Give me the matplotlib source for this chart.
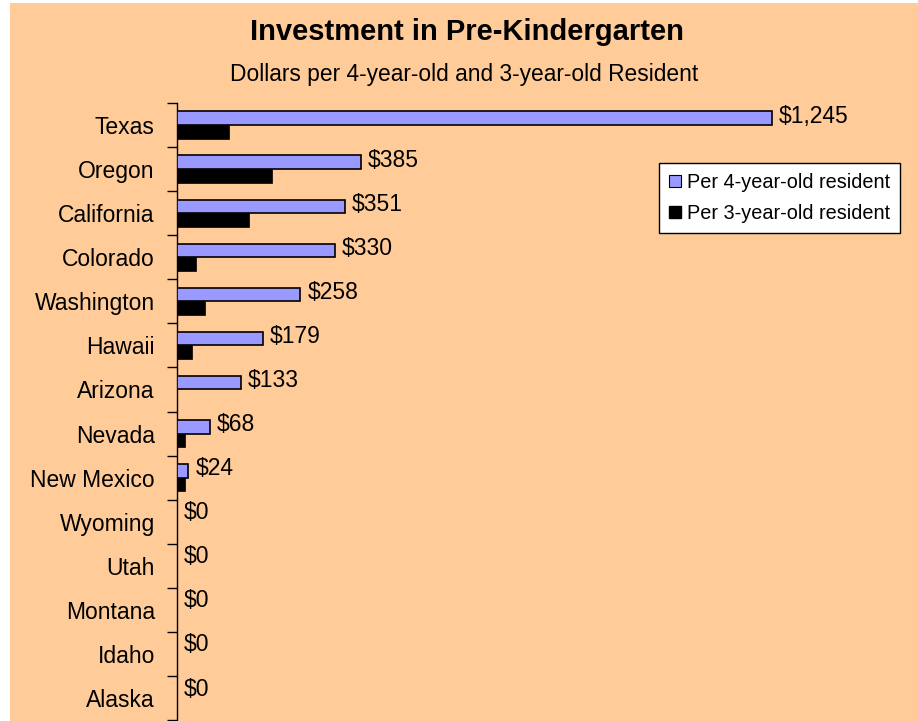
import matplotlib
matplotlib.use("Agg")
import matplotlib.pyplot as plt
from matplotlib.patches import Rectangle, Patch
import numpy as np

plt.rcParams['font.family'] = ['Liberation Sans', 'DejaVu Sans']

# data
states = ['Texas', 'Oregon', 'California', 'Colorado', 'Washington', 'Hawaii',
          'Arizona', 'Nevada', 'New Mexico', 'Wyoming', 'Utah', 'Montana',
          'Idaho', 'Alaska']
per_4yr = [1245, 385, 351, 330, 258, 179, 133, 68, 24, 0, 0, 0, 0, 0]
per_3yr = [109, 198, 151, 39, 59, 31, 0, 17, 17, 0, 0, 0, 0, 0]
value_labels = ['$1,245', '$385', '$351', '$330', '$258', '$179', '$133',
                '$68', '$24', '$0', '$0', '$0', '$0', '$0']

peach = '#FFCC99'
lilac = '#9999FF'

W, H = 918, 721
fig = plt.figure(figsize=(W / 100, H / 100), dpi=100)
fig.patch.set_facecolor('white')
# peach chart area (small white strip on the left and top)
fig.add_artist(Rectangle((10 / W, 0), (W - 10) / W, (H - 3) / H,
                         transform=fig.transFigure, facecolor=peach,
                         edgecolor='none', zorder=-10))

# axes placed in pixel terms
ax = fig.add_axes([177 / W, 1 / H, 728 / W, 617 / H])
ax.set_facecolor('none')

y = np.arange(len(states))
h = 0.31
ax.barh(y - 0.155, per_4yr, height=h, color=lilac, edgecolor='black',
        linewidth=1.2, label='Per 4-year-old resident', zorder=3)
ax.barh(y + 0.155, per_3yr, height=h, color='black', edgecolor='black',
        linewidth=0.5, label='Per 3-year-old resident', zorder=3)

# labels on the 4-year-old bars
for i in range(len(states)):
    ax.annotate(value_labels[i], xy=(per_4yr[i], y[i] - 0.155),
                xytext=(5, 1.5), textcoords='offset points',
                ha='left', va='center', fontsize=16.5, color='black')

ax.set_xlim(0, 1523)
ax.set_ylim(len(states) - 0.5, -0.5)

ax.set_yticks(y)
ax.set_yticklabels(states, fontsize=16.5)
ax.set_yticks(np.arange(len(states) + 1) - 0.5, minor=True)
ax.tick_params(axis='y', which='major', length=0, pad=16)
ax.tick_params(axis='y', which='minor', length=7, width=1, direction='out')
ax.set_xticks([])
for s in ['top', 'right', 'bottom']:
    ax.spines[s].set_visible(False)
ax.spines['left'].set_linewidth(1)

# titles
fig.text(467 / W, 1 - 32 / H, 'Investment in Pre-Kindergarten',
         ha='center', va='center', fontsize=21, fontweight='bold')
fig.text(464 / W, 1 - 75 / H, 'Dollars per 4-year-old and 3-year-old Resident',
         ha='center', va='center', fontsize=16.4)

handles = [Patch(facecolor=lilac, edgecolor='black', linewidth=0.8),
           Patch(facecolor='black', edgecolor='black')]
leg = fig.legend(handles, ['Per 4-year-old resident', 'Per 3-year-old resident'],
                 loc='upper left', bbox_to_anchor=(659 / W, 1 - 163 / H),
                 fontsize=14.3, frameon=True, fancybox=False, borderaxespad=0,
                 handlelength=0.6, handleheight=0.6, handletextpad=0.3,
                 labelspacing=0.6, borderpad=0.5)
leg.get_frame().set_edgecolor('black')
leg.get_frame().set_facecolor('white')
leg.get_frame().set_linewidth(1)
leg.get_frame().set_alpha(1)

fig.savefig('out.png', dpi=100, facecolor=fig.get_facecolor())
